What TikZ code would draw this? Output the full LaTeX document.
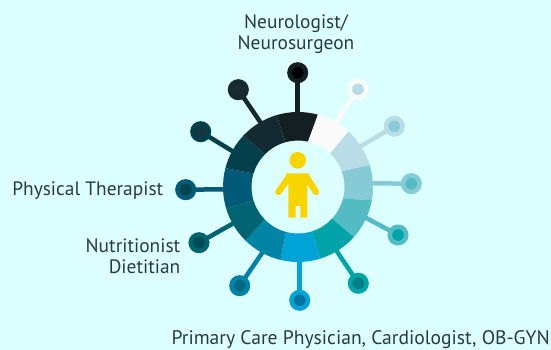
\documentclass[tikz,border=0pt]{standalone}
\usepackage{fontspec}
\setmainfont{PT Sans}
\usetikzlibrary{calc,backgrounds}
\definecolor{bgc}{HTML}{DCFFFF}
\definecolor{txt}{HTML}{2B3A42}
\definecolor{personc}{HTML}{F9D500}
\definecolor{ca}{HTML}{141F22}\definecolor{ia}{HTML}{000000}
\definecolor{cb}{HTML}{FAFAFA}\definecolor{ib}{HTML}{B9DDE7}
\definecolor{cc}{HTML}{B9DDE7}\definecolor{ic}{HTML}{88CAD8}
\definecolor{cd}{HTML}{86CAD6}\definecolor{id}{HTML}{52BCC2}
\definecolor{ce}{HTML}{52BCC2}\definecolor{ie}{HTML}{00A5AB}
\definecolor{cf}{HTML}{00A3A8}\definecolor{if}{HTML}{007D85}
\definecolor{cg}{HTML}{00A3D5}\definecolor{ig}{HTML}{0073A0}
\definecolor{ch}{HTML}{0084A5}\definecolor{ih}{HTML}{006785}
\definecolor{ci}{HTML}{006470}\definecolor{ii}{HTML}{004B55}
\definecolor{cj}{HTML}{005A78}\definecolor{ij}{HTML}{02454F}
\definecolor{ck}{HTML}{03404C}\definecolor{ik}{HTML}{15353F}
\definecolor{cl}{HTML}{142A32}\definecolor{il}{HTML}{1A2A2E}
\tikzset{
  x=1pt,y=1pt,
  hub/.style={circle,inner sep=0pt,outer sep=0pt,minimum size=16.5pt,line width=4.5pt},
  spoke/.style={line width=4.5pt,shorten >=-3pt,shorten <=-3pt},
  lbl/.style={text=txt,font=\fontsize{19.4}{21}\selectfont,inner sep=0pt},
  arm/.style={draw=personc,line width=6.5pt,line cap=round},
}
\newcommand{\seg}[5]{\fill[#1] (298,163) ++(#2:75) arc[start angle=#2,end angle=#3,radius=75] -- ($(298,163)+(#5:46.5)$) arc[start angle=#5,end angle=#4,radius=46.5] -- cycle;}
\begin{document}
\begin{tikzpicture}
\path[use as bounding box] (0,0) rectangle (551,350);
\foreach \n/\cx/\cy/\rc/\ic in {
 a/297.7/72.7/ca/ia, b/358/89.3/cb/ib, c/394.3/126.3/cc/ic, d/411.3/183.7/cd/id,
 e/398/235/ce/ie, f/358.3/283.3/cf/if, g/299.7/300.3/cg/ig, h/239.7/285.7/ch/ih,
 i/199/242.7/ci/ii, j/185.7/189.7/cj/ij, k/200.7/131.7/ck/ik, l/238.3/89.7/cl/il}{
  \node[hub,draw=\rc,fill=\ic] (n\n) at (\cx,350-\cy) {};
}
\foreach \n/\cx/\cy in {
 a/297.7/112.3, b/335.7/122.7, c/360/146.7, d/372.7/183.3, e/365/217.3, f/336/250,
 g/299.7/262, h/263/251.7, i/233.3/223.3, j/223.3/189.3, k/233.3/151.7, l/260/121.7}{
  \coordinate (r\n) at (\cx,350-\cy);
}
\begin{pgfonlayer}{background}
\fill[bgc] (0,0) rectangle (551,350);
\foreach \n/\rc in {a/ca,b/cb,c/cc,d/cd,e/ce,f/cf,g/cg,h/ch,i/ci,j/cj,k/ck,l/cl}{
  \draw[spoke,draw=\rc] (n\n) -- (r\n);
}
\end{pgfonlayer}
\seg{ca}{106.6}{74.6}{105.7}{77.5}
\seg{cb}{74.6}{47.7}{77.5}{46.1}
\seg{cc}{47.7}{17}{46.1}{19.8}
\seg{cd}{17}{-10}{19.8}{-14.6}
\seg{ce}{-10}{-41.9}{-14.6}{-43}
\seg{cf}{-41.9}{-73}{-43}{-72.5}
\seg{cg}{-73}{-103.5}{-72.5}{-105}
\seg{ch}{-103.5}{-134.5}{-105}{-135.9}
\seg{ci}{-134.5}{-163}{-135.9}{-163.2}
\seg{cj}{-163}{-194.6}{-163.2}{-196.8}
\seg{ck}{-194.6}{-223.4}{-196.8}{-224.8}
\seg{cl}{-223.4}{-253.4}{-224.8}{-254.3}
% person
\fill[personc] (297.7,189.7) circle (8.3);
\draw[arm] (289,173) -- (278.5,158);
\draw[arm] (306.5,173) -- (316,158);
\fill[personc] (288.3,132.3) -- (288.3,168) -- (286,176.7) -- (309.5,176.7) -- (307.3,168) -- (307.3,132.3) -- (300.3,132.3) -- (300.3,144) -- (295.7,144) -- (295.7,132.3) -- cycle;
% labels
\node[lbl,align=center] (t1) at (296,316) {Neurologist/\\Neurosurgeon};
\node[lbl,anchor=base east] (t2) at (163.5,154) {Physical Therapist};
\node[lbl,anchor=east,align=right] (t3) at (180.5,94) {Nutritionist\\Dietitian};
\node[lbl,anchor=base east,font=\fontsize{19.6}{21}\selectfont] (t4) at (550,5.6) {Primary Care Physician, Cardiologist, OB-GYN};
\end{tikzpicture}
\end{document}
